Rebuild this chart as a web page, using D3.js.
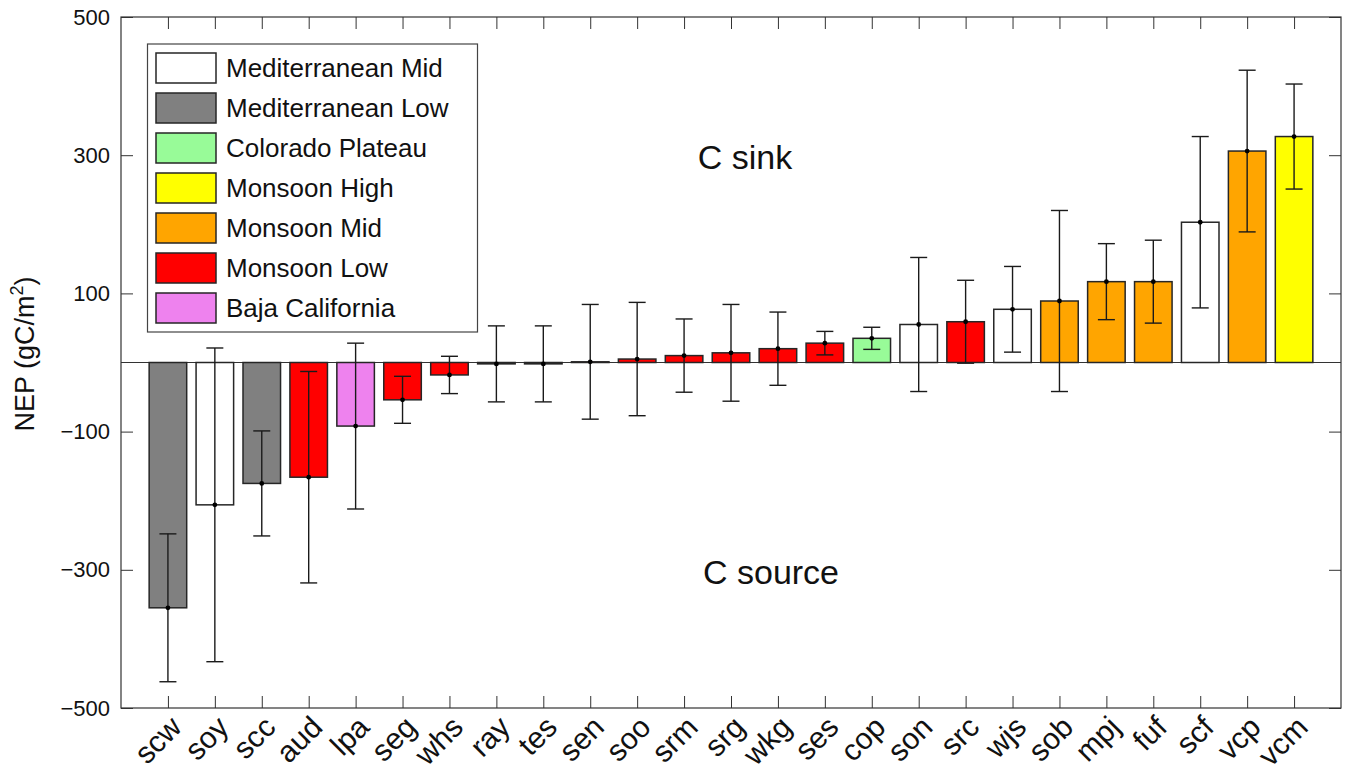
<!DOCTYPE html>
<html>
<head>
<meta charset="utf-8">
<script src="https://cdn.jsdelivr.net/npm/d3@7"></script>
<style>
  html, body { margin: 0; padding: 0; background: #fff; }
  svg { display: block; font-family: "Liberation Sans", Arial, sans-serif; }
</style>
</head>
<body>
<svg id="chart" width="1346" height="771"></svg>
<script>
// sitios, NEP medio e desvio (gC/m2)
const sites = ["scw","soy","scc","aud","lpa","seg","whs","ray","tes","sen","soo","srm","srg",
               "wkg","ses","cop","son","src","wjs","sob","mpj","fuf","scf","vcp","vcm"];
const nep = [-355, -206, -175, -166, -92, -54, -18, -2, -2, 1, 5, 10, 14,
             20, 28, 35, 55, 59, 77, 89, 117, 117, 203, 306, 327];
const err = [107, 227, 76, 153, 120, 34, 27, 55, 55, 83, 82, 53, 70,
             53, 17, 16, 97, 60, 62, 131, 55, 60, 124, 117, 76];
const group = ["Mediterranean Low","Mediterranean Mid","Mediterranean Low","Monsoon Low","Baja California",
               "Monsoon Low","Monsoon Low","Monsoon Low","Monsoon Low","Monsoon Low","Monsoon Low",
               "Monsoon Low","Monsoon Low","Monsoon Low","Monsoon Low","Colorado Plateau",
               "Mediterranean Mid","Monsoon Low","Mediterranean Mid","Monsoon Mid","Monsoon Mid",
               "Monsoon Mid","Mediterranean Mid","Monsoon Mid","Monsoon High"];

const groups = ["Mediterranean Mid","Mediterranean Low","Colorado Plateau","Monsoon High",
                "Monsoon Mid","Monsoon Low","Baja California"];
const groupColors = ["#ffffff","#808080","#98fb98","#ffff00","#ffa500","#ff0000","#ee82ee"];
const yTicks = [-500, -300, -100, 100, 300, 500];

const svg = d3.select("#chart");
const L = 121, R = 1341, T = 17, B = 708;

const x = d3.scaleLinear().domain([0, sites.length + 1]).range([L, R]);
const y = d3.scaleLinear().domain([-500, 500]).range([B, T]);
const color = d3.scaleOrdinal().domain(groups).range(groupColors);

const data = sites.map((s, i) => ({ site: s, v: nep[i], e: err[i], g: group[i], i: i + 1 }));
const bw = (x(1) - x(0)) * 0.8;
const cap = 8.5;

// eixos (ticks para dentro, estilo matlab)
const axisColor = "#333";
function styleAxis(sel) {
  sel.select(".domain").remove();
  sel.selectAll(".tick line").attr("stroke", axisColor);
  sel.selectAll(".tick text").attr("fill", "#111").style("font-size", "22px");
}

svg.append("g").attr("transform", `translate(${L},0)`)
  .call(d3.axisLeft(y).tickValues(yTicks).tickSizeInner(-12).tickSizeOuter(0).tickPadding(11)
    .tickFormat(d => d < 0 ? "\u2212" + Math.abs(d) : d))
  .call(styleAxis);

svg.append("g").attr("transform", `translate(${R},0)`)
  .call(d3.axisRight(y).tickValues(yTicks).tickSizeInner(-12).tickSizeOuter(0).tickFormat(""))
  .call(styleAxis);

svg.append("g").attr("transform", `translate(0,${T})`)
  .call(d3.axisTop(x).tickValues(d3.range(1, sites.length + 1)).tickSizeInner(-12).tickSizeOuter(0).tickFormat(""))
  .call(styleAxis);

const xb = svg.append("g").attr("transform", `translate(0,${B})`)
  .call(d3.axisBottom(x).tickValues(d3.range(1, sites.length + 1)).tickSizeInner(-12).tickSizeOuter(0)
    .tickFormat(d => sites[d - 1]))
  .call(styleAxis);

xb.selectAll(".tick text")
  .style("font-size", "30px")
  .attr("text-anchor", "end")
  .attr("dy", null)
  .attr("y", 0)
  .attr("transform", "translate(15,21) rotate(-45)");

// linha do zero
svg.append("line")
  .attr("x1", L).attr("x2", R).attr("y1", y(0)).attr("y2", y(0))
  .attr("stroke", axisColor).attr("stroke-width", 1.2);

// barras
svg.append("g").selectAll("rect")
  .data(data).enter().append("rect")
  .attr("x", d => x(d.i) - bw / 2)
  .attr("width", bw)
  .attr("y", d => y(Math.max(0, d.v)))
  .attr("height", d => Math.abs(y(d.v) - y(0)))
  .attr("fill", d => color(d.g))
  .attr("stroke", "#262626")
  .attr("stroke-width", 1.5);

// barras de erro
const eb = svg.append("g").attr("stroke", "#1a1a1a").attr("stroke-width", 1.4);
data.forEach(d => {
  const cx = x(d.i);
  eb.append("line").attr("x1", cx).attr("x2", cx).attr("y1", y(d.v + d.e)).attr("y2", y(d.v - d.e));
  eb.append("line").attr("x1", cx - cap).attr("x2", cx + cap).attr("y1", y(d.v + d.e)).attr("y2", y(d.v + d.e));
  eb.append("line").attr("x1", cx - cap).attr("x2", cx + cap).attr("y1", y(d.v - d.e)).attr("y2", y(d.v - d.e));
});
svg.append("g").selectAll("circle")
  .data(data).enter().append("circle")
  .attr("cx", d => x(d.i)).attr("cy", d => y(d.v)).attr("r", 2.4).attr("fill", "#000");

// moldura
svg.append("rect")
  .attr("x", L).attr("y", T).attr("width", R - L).attr("height", B - T)
  .attr("fill", "none").attr("stroke", axisColor).attr("stroke-width", 1.2);

// textos
svg.append("text").attr("x", 745).attr("y", 169).attr("text-anchor", "middle")
  .style("font-size", "34px").attr("fill", "#111").text("C sink");
svg.append("text").attr("x", 771).attr("y", 584).attr("text-anchor", "middle")
  .style("font-size", "34px").attr("fill", "#111").text("C source");

const yl = svg.append("text")
  .attr("transform", "translate(34,354) rotate(-90)")
  .attr("text-anchor", "middle").style("font-size", "27px").attr("fill", "#111");
yl.append("tspan").text("NEP (gC/m");
yl.append("tspan").attr("dy", -11).style("font-size", "18px").text("2");
yl.append("tspan").attr("dy", 11).text(")");

// legenda
const lg = svg.append("g");
lg.append("rect").attr("x", 147.5).attr("y", 44).attr("width", 330).attr("height", 288)
  .attr("fill", "#fff").attr("stroke", "#444").attr("stroke-width", 1.2);
groups.forEach((g, k) => {
  const ty = 53 + k * 40;
  lg.append("rect").attr("x", 156).attr("y", ty).attr("width", 60).attr("height", 30)
    .attr("fill", color(g)).attr("stroke", "#262626").attr("stroke-width", 1.5);
  lg.append("text").attr("x", 226).attr("y", ty + 24).style("font-size", "26px")
    .attr("fill", "#111").text(g);
});
</script>
</body>
</html>
